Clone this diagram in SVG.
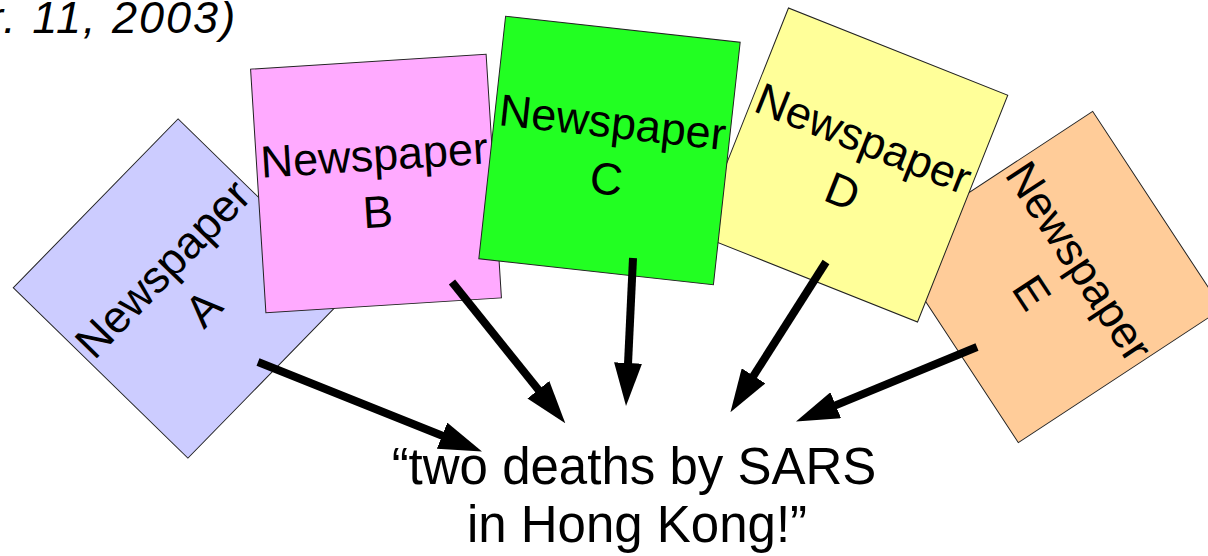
<svg xmlns="http://www.w3.org/2000/svg" width="1208" height="556" viewBox="0 0 1208 556">
  <style>
    .paper { stroke: #222; stroke-width: 1; }
    .label { font-family: "Liberation Sans", Arial, sans-serif; font-size: 45px; fill: #000; text-anchor: middle; }
    .quote { font-family: "Liberation Sans", Arial, sans-serif; font-size: 51px; fill: #000; text-anchor: middle; }
    .date { font-family: "Liberation Sans", Arial, sans-serif; font-size: 45px; font-style: italic; letter-spacing: 2px; fill: #000; }
    .arrow { stroke: #000; stroke-width: 8; fill: none; marker-end: url(#head); }
  </style>
  <defs>
    <marker id="head" markerUnits="userSpaceOnUse" viewBox="0 0 43 28" markerWidth="43" markerHeight="28" refX="1" refY="14" orient="auto">
      <path d="M0,0 L43,14 L0,28 z" fill="#000"/>
    </marker>
  </defs>

  <rect width="1208" height="556" fill="#fff"/>

  <!-- caption fragment, top left -->
  <text class="date" x="-12" y="33">r. 11, 2003)</text>

  <!-- newspapers: 236 x 244 sheets, each rotated about its centre -->
  <g id="newspaper-a" transform="translate(183,288.5) rotate(-45.7)">
    <rect class="paper" x="-118" y="-122" width="236" height="244" fill="#ccccff"/>
    <text class="label" x="0" y="-13">Newspaper</text>
    <text class="label" x="0" y="44">A</text>
  </g>
  <g id="newspaper-b" transform="translate(376,183.5) rotate(-3.6)">
    <rect class="paper" x="-118" y="-122" width="236" height="244" fill="#ffaaff"/>
    <text class="label" x="0" y="-13">Newspaper</text>
    <text class="label" x="0" y="44">B</text>
  </g>
  <g id="newspaper-e" transform="translate(1055.5,277) rotate(56.7)">
    <rect class="paper" x="-118" y="-122" width="236" height="244" fill="#ffcc99"/>
    <text class="label" x="0" y="-13">Newspaper</text>
    <text class="label" x="0" y="44">E</text>
  </g>
  <g id="newspaper-d" transform="translate(853,165) rotate(21.7)">
    <rect class="paper" x="-118" y="-122" width="236" height="244" fill="#ffff99"/>
    <text class="label" x="0" y="-13">Newspaper</text>
    <text class="label" x="0" y="44">D</text>
  </g>
  <g id="newspaper-c" transform="translate(609.5,150.5) rotate(6.3)">
    <rect class="paper" x="-118" y="-122" width="236" height="244" fill="#22ff22"/>
    <text class="label" x="0" y="-13">Newspaper</text>
    <text class="label" x="0" y="44">C</text>
  </g>

  <!-- headline all papers report -->
  <g id="headline">
    <text class="quote" x="634" y="484">“two deaths by SARS</text>
    <text class="quote" x="637" y="542">in Hong Kong!”</text>
  </g>

  <!-- connectors: each line stops at the base of its arrowhead -->
  <g id="connectors">
    <line class="arrow" x1="258" y1="362" x2="443" y2="436"/>
    <line class="arrow" x1="452" y1="282" x2="539" y2="390.5"/>
    <line class="arrow" x1="633" y1="258" x2="628" y2="364"/>
    <line class="arrow" x1="826" y1="262" x2="753" y2="376.7"/>
    <line class="arrow" x1="977" y1="347" x2="834.8" y2="405.6"/>
  </g>
</svg>
